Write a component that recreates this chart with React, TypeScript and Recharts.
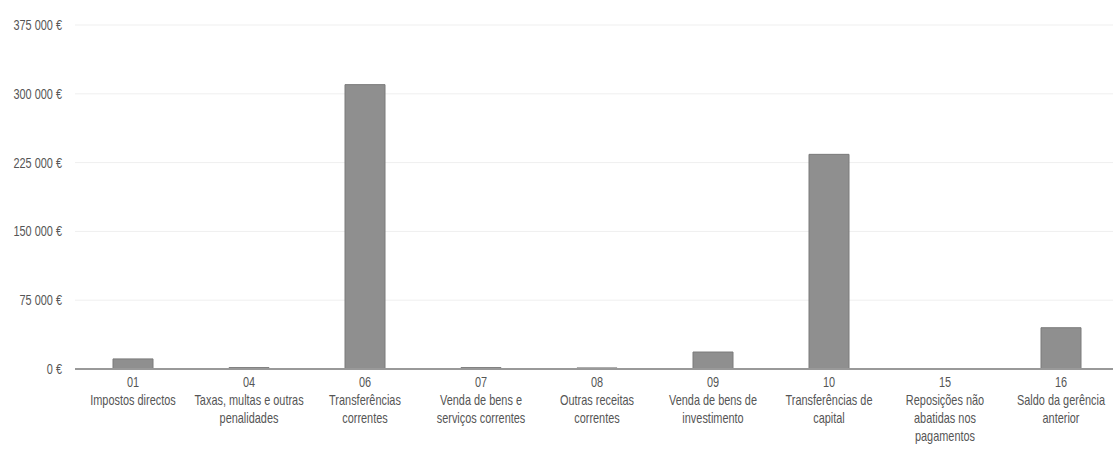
import React from "react";
import { BarChart, Bar, XAxis, YAxis, CartesianGrid } from "recharts";

const codes = ["01", "04", "06", "07", "08", "09", "10", "15", "16"];
const names = [
  "Impostos directos",
  "Taxas, multas e outras\npenalidades",
  "Transferências\ncorrentes",
  "Venda de bens e\nserviços correntes",
  "Outras receitas\ncorrentes",
  "Venda de bens de\ninvestimento",
  "Transferências de\ncapital",
  "Reposições não\nabatidas nos\npagamentos",
  "Saldo da gerência\nanterior",
];
const values = [11000, 1500, 310000, 1500, 1200, 18500, 234000, 0, 45000];
const yTicks = [0, 75000, 150000, 225000, 300000, 375000];

const data = codes.map((code, i) => ({ code, name: names[i], value: values[i] }));

const FONT = "'Liberation Sans', Arial, sans-serif";
const SQUEEZE = 0.78; // the original uses a condensed face

// thousands with a space, then the euro sign
const euro = (v: number) =>
  `${String(v).replace(/\B(?=(\d{3})+(?!\d))/g, " ")} €`;

const CategoryTick = (props: any) => {
  const { x, y, payload, index } = props;
  const lines = names[index] ? names[index].split("\n") : [];
  return (
    <g transform={`translate(${x},${y}) scale(${SQUEEZE},1)`}>
      <text textAnchor="middle" fill="#555" fontSize={14} fontFamily={FONT}>
        <tspan x={0} dy={10}>
          {payload.value}
        </tspan>
        {lines.map((l: string, i: number) => (
          <tspan key={i} x={0} dy={18}>
            {l}
          </tspan>
        ))}
      </text>
    </g>
  );
};

const ValueTick = (props: any) => {
  const { x, y, payload } = props;
  return (
    <g transform={`translate(${x},${y}) scale(${SQUEEZE},1)`}>
      <text
        textAnchor="end"
        dy="0.35em"
        fill="#555"
        fontSize={14}
        fontFamily={FONT}
      >
        {euro(payload.value)}
      </text>
    </g>
  );
};

export default function App() {
  return (
    <div
      style={{
        position: "absolute",
        left: 0,
        top: 0,
        width: 1113,
        height: 470,
        overflow: "hidden",
        background: "#fff",
      }}
    >
      <BarChart
        width={1125}
        height={470}
        data={data}
        margin={{ top: 25, right: 6, left: 0, bottom: 0 }}
        barSize={40}
      >
        <CartesianGrid vertical={false} stroke="#efefef" />
        <XAxis
          dataKey="code"
          height={101}
          interval={0}
          axisLine={{ stroke: "#999", strokeWidth: 2 }}
          tickLine={false}
          tick={<CategoryTick />}
        />
        <YAxis
          width={75}
          domain={[0, 375000]}
          ticks={yTicks}
          axisLine={false}
          tickLine={false}
          tickSize={0}
          tickMargin={13}
          tick={<ValueTick />}
        />
        <Bar
          dataKey="value"
          fill="#8f8f8f"
          stroke="#7a7a7a"
          strokeWidth={1}
          isAnimationActive={false}
        />
      </BarChart>
    </div>
  );
}
